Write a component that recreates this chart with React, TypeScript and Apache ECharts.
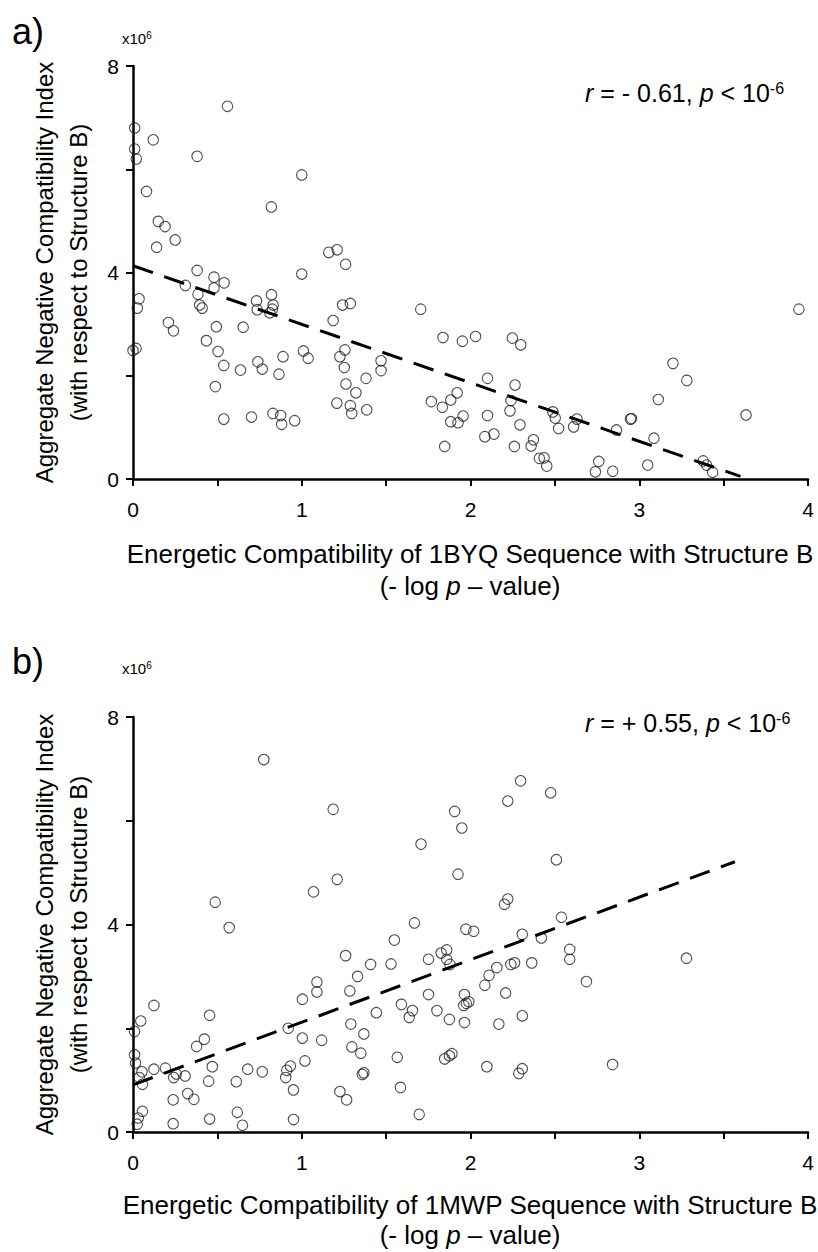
import React, { useEffect, useRef } from "react";
import * as echarts from "echarts";

// ---------- Data ----------
// Panel a: 1BYQ energetic compatibility (x) vs aggregate negative compatibility index (y, x10^6)
const panelA_x = [
  0.01, 0.01, 0.02, 0.12, 0.56, 0.38, 0.08, 1.0, 0.15, 0.19, 0.25, 0.14, 0.82, 0.38, 1.0, 1.16,
  1.21, 1.26, 0.31, 0.385, 0.395, 0.41, 0.48, 0.48, 0.54, 0.036, 0.026, 0.0, 0.018, 0.21, 0.24,
  0.435, 0.494, 0.504, 0.538, 0.488, 0.538, 0.653, 0.637, 0.702, 0.732, 0.736, 0.821, 0.831,
  0.826, 0.811, 0.74, 0.766, 0.865, 0.889, 0.829, 0.875, 0.881, 0.958, 1.01, 1.038, 1.186,
  1.242, 1.288, 1.256, 1.226, 1.252, 1.262, 1.321, 1.208, 1.288, 1.296, 1.381, 1.385, 1.47,
  1.47, 1.705, 1.837, 1.952, 2.03, 2.248, 2.298, 1.768, 1.833, 1.883, 1.921, 1.883, 1.926,
  1.956, 1.847, 2.101, 2.101, 2.085, 2.139, 2.264, 2.24, 2.234, 2.293, 2.26, 2.373, 2.359,
  2.408, 2.436, 2.452, 2.488, 2.502, 2.522, 2.611, 2.631, 2.76, 2.74, 2.843, 2.865, 2.948,
  2.954, 3.05, 3.087, 3.113, 3.2, 3.282, 3.379, 3.399, 3.435, 3.633, 3.946,
];
const panelA_y = [
  6.8, 6.39, 6.2, 6.57, 7.22, 6.25, 5.57, 5.89, 4.99, 4.89, 4.63, 4.49, 5.27, 4.04, 3.97, 4.39,
  4.44, 4.16, 3.75, 3.58, 3.37, 3.31, 3.91, 3.7, 3.8, 3.49, 3.31, 2.49, 2.53, 3.03, 2.87, 2.68,
  2.95, 2.47, 2.2, 1.79, 1.16, 2.94, 2.11, 1.2, 3.45, 3.28, 3.57, 3.37, 3.29, 3.22, 2.27, 2.13,
  2.03, 2.37, 1.27, 1.23, 1.06, 1.13, 2.48, 2.34, 3.07, 3.37, 3.4, 2.5, 2.37, 2.16, 1.84, 1.67,
  1.47, 1.42, 1.27, 1.95, 1.34, 2.29, 2.1, 3.29, 2.74, 2.67, 2.76, 2.73, 2.6, 1.5, 1.39, 1.53,
  1.67, 1.11, 1.09, 1.22, 0.63, 1.95, 1.23, 0.82, 0.87, 1.82, 1.52, 1.32, 1.05, 0.63, 0.76,
  0.64, 0.4, 0.41, 0.25, 1.3, 1.18, 0.98, 1.01, 1.16, 0.34, 0.14, 0.15, 0.95, 1.16, 1.17, 0.27,
  0.79, 1.54, 2.24, 1.91, 0.35, 0.27, 0.13, 1.24, 3.29,
];
const panelA_trendX = [0, 3.6];
const panelA_trendY = [4.13, 0.05];

// Panel b: 1MWP energetic compatibility (x) vs aggregate negative compatibility index (y, x10^6)
const panelB_x = [
  0.775, 1.186, 1.21, 1.07, 0.487, 0.57, 2.297, 2.475, 2.221, 1.906, 1.949, 1.707, 1.926, 2.509,
  2.221, 2.201, 1.668, 1.973, 2.019, 2.539, 2.307, 2.42, 1.549, 1.26, 1.408, 1.529, 1.751, 1.826,
  1.859, 1.859, 1.878, 2.588, 2.588, 2.363, 2.239, 2.261, 2.156, 2.11, 2.085, 2.208, 2.687, 3.28,
  1.331, 1.09, 1.09, 1.285, 1.004, 1.751, 1.591, 1.656, 1.637, 1.801, 1.442, 1.96, 1.975, 1.99,
  1.964, 1.875, 1.964, 2.168, 2.307, 1.291, 1.368, 0.92, 1.004, 1.118, 1.297, 1.35, 1.566,
  1.847, 1.875, 1.89, 2.097, 2.286, 2.307, 2.842, 1.359, 1.368, 1.019, 0.933, 0.911, 0.905,
  0.766, 0.68, 0.612, 0.951, 1.226, 1.266, 1.585, 1.696, 0.951, 0.649, 0.618, 0.454, 0.238,
  0.238, 0.324, 0.361, 0.448, 0.47, 0.377, 0.423, 0.454, 0.124, 0.046, 0.009, 0.009, 0.015,
  0.053, 0.037, 0.056, 0.124, 0.192, 0.256, 0.241, 0.309, 0.056, 0.031, 0.025,
];
const panelB_y = [
  7.18, 6.22, 4.87, 4.63, 4.43, 3.94, 6.77, 6.54, 6.38, 6.18, 5.86, 5.55, 4.97, 5.25, 4.49, 4.39,
  4.03, 3.91, 3.87, 4.14, 3.81, 3.74, 3.7, 3.4, 3.23, 3.24, 3.33, 3.45, 3.51, 3.33, 3.23, 3.52,
  3.33, 3.26, 3.23, 3.26, 3.17, 3.02, 2.83, 2.68, 2.9, 3.35, 3.0, 2.89, 2.7, 2.72, 2.56, 2.65,
  2.46, 2.34, 2.21, 2.34, 2.3, 2.44, 2.48, 2.51, 2.65, 2.17, 2.11, 2.08, 2.24, 2.08, 1.89, 2.0,
  1.81, 1.77, 1.64, 1.52, 1.44, 1.41, 1.47, 1.51, 1.26, 1.13, 1.22, 1.3, 1.11, 1.14, 1.37, 1.27,
  1.19, 1.05, 1.16, 1.21, 0.97, 0.81, 0.78, 0.62, 0.86, 0.34, 0.24, 0.13, 0.38, 0.25, 0.16,
  0.62, 0.74, 0.63, 0.98, 1.26, 1.65, 1.79, 2.25, 2.44, 2.14, 1.94, 1.49, 1.33, 1.16, 1.05,
  0.92, 1.21, 1.23, 1.12, 1.05, 1.08, 0.4, 0.27, 0.15,
];
const panelB_trendX = [0, 3.567];
const panelB_trendY = [0.91, 5.21];

const xTicks = [0, 1, 2, 3, 4];
const yTicks = [0, 4, 8];

const FONT = '"Liberation Sans", Arial, Helvetica, sans-serif';

const zip = (xs: number[], ys: number[]) => xs.map((x, i) => [x, ys[i]]);

function App() {
  const ref = useRef<HTMLDivElement>(null);

  useEffect(() => {
    if (!ref.current) return;
    const chart = echarts.init(ref.current, undefined, { renderer: "svg" });

    const grids = [
      { left: 133, width: 675, top: 66, height: 413 },
      { left: 133, width: 675, top: 717, height: 415 },
    ];

    const xAxis = grids.map((_, i) => ({
      gridIndex: i,
      type: "value",
      min: 0,
      max: 4,
      interval: 0.5,
      axisLine: { onZero: false, lineStyle: { color: "#000", width: 2.5 } },
      axisTick: { inside: false, length: 7, lineStyle: { color: "#000", width: 2 } },
      axisLabel: {
        formatter: (v: number) => (xTicks.includes(v) ? String(v) : ""),
        fontSize: 21,
        color: "#000",
        fontFamily: FONT,
        margin: 20,
      },
      splitLine: { show: false },
    }));

    const yAxis = grids.map((_, i) => ({
      gridIndex: i,
      type: "value",
      min: 0,
      max: 8,
      interval: 2,
      axisLine: { onZero: false, lineStyle: { color: "#000", width: 2.5 } },
      axisTick: { inside: false, length: 7, lineStyle: { color: "#000", width: 2 } },
      axisLabel: {
        formatter: (v: number) => (yTicks.includes(v) ? String(v) : ""),
        fontSize: 21,
        color: "#000",
        fontFamily: FONT,
        margin: 14,
      },
      splitLine: { show: false },
    }));

    const scatterStyle = {
      color: "rgba(255,255,255,0)",
      borderColor: "#222",
      borderWidth: 1.1,
    };
    const trendStyle = { type: [21, 12], width: 3, color: "#000" };

    const plain = (
      x: number,
      y: number,
      text: string,
      size: number,
      align = "left",
      rotation = 0,
      supSize = 9
    ) => ({
      type: "text",
      x,
      y,
      rotation,
      style: {
        text,
        fill: "#000",
        fontSize: size,
        fontFamily: FONT,
        align,
        verticalAlign: "middle",
        lineHeight: size,
        rich: {
          i: { fontStyle: "italic", fontSize: size, fontFamily: FONT, fill: "#000", lineHeight: size },
          s: { fontSize: supSize, fontFamily: FONT, verticalAlign: "top", fill: "#000" },
        },
      },
    });

    const panelTexts = (
      offY: number,
      gridIdx: number,
      seq: string,
      rStr: string,
      sub1: number,
      sub2: number
    ) => {
      const g = grids[gridIdx];
      const cy = g.top + g.height / 2;
      const axisBottom = g.top + g.height;
      return [
        plain(12, offY + 31, gridIdx === 0 ? "a)" : "b)", 36),
        plain(122, offY + 38, "x10{s|6}", 15, "left", 0, 10),
        plain(585, offY + 93, rStr, 25, "left", 0, 16),
        plain(44, cy, "Aggregate Negative Compatibility Index", 24, "center", Math.PI / 2),
        plain(78, cy, "(with respect to Structure B)", 24, "center", Math.PI / 2),
        plain(470, axisBottom + sub1, `Energetic Compatibility of ${seq} Sequence with Structure B`, 26, "center"),
        plain(470, axisBottom + sub2, "(- log {i|p} \u2013 value)", 26, "center"),
      ];
    };

    chart.setOption({
      animation: false,
      backgroundColor: "#fff",
      grid: grids,
      xAxis,
      yAxis,
      series: [
        {
          type: "scatter",
          xAxisIndex: 0,
          yAxisIndex: 0,
          data: zip(panelA_x, panelA_y),
          symbol: "circle",
          symbolSize: 10.5,
          itemStyle: scatterStyle,
          silent: true,
        },
        {
          type: "line",
          xAxisIndex: 0,
          yAxisIndex: 0,
          data: zip(panelA_trendX, panelA_trendY),
          symbol: "none",
          lineStyle: trendStyle,
          silent: true,
        },
        {
          type: "scatter",
          xAxisIndex: 1,
          yAxisIndex: 1,
          data: zip(panelB_x, panelB_y),
          symbol: "circle",
          symbolSize: 10.5,
          itemStyle: scatterStyle,
          silent: true,
        },
        {
          type: "line",
          xAxisIndex: 1,
          yAxisIndex: 1,
          data: zip(panelB_trendX, panelB_trendY),
          symbol: "none",
          lineStyle: trendStyle,
          silent: true,
        },
      ],
      graphic: [
        ...panelTexts(0, 0, "1BYQ", "{i|r} = - 0.61, {i|p} < 10{s|-6}", 75, 107),
        ...panelTexts(630, 1, "1MWP", "{i|r} = + 0.55, {i|p} < 10{s|-6}", 73, 103),
      ],
    });

    return () => chart.dispose();
  }, []);

  return (
    <div
      ref={ref}
      style={{ position: "absolute", left: 0, top: 0, width: 818, height: 1252, background: "#fff" }}
    />
  );
}

export default App;
